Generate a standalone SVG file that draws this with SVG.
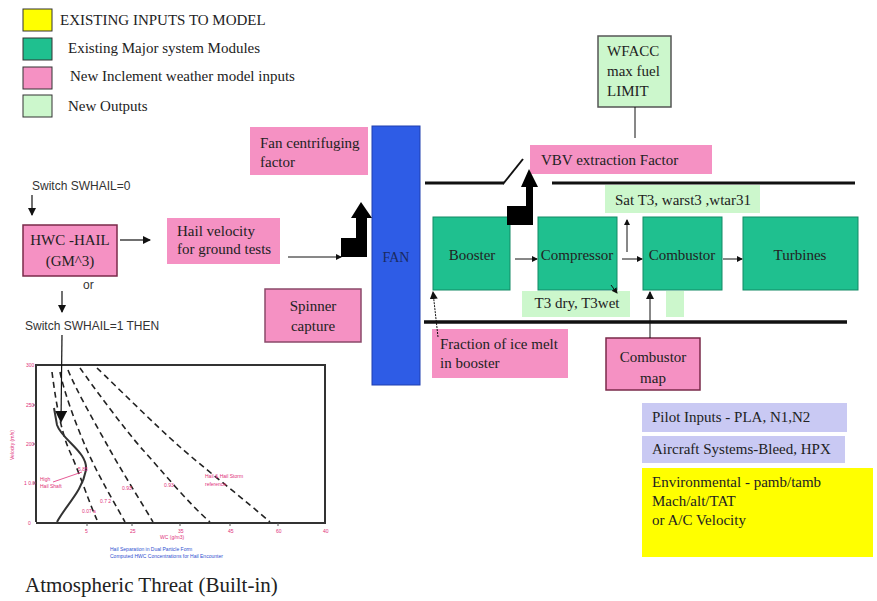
<svg xmlns="http://www.w3.org/2000/svg" width="877" height="601" viewBox="0 0 877 601">
<defs>
<marker id="ah" markerWidth="8" markerHeight="8" refX="7" refY="4" orient="auto" markerUnits="userSpaceOnUse"><path d="M0,0 L8,4 L0,8 z" fill="#111"/></marker>
<marker id="ahs" markerWidth="6" markerHeight="6" refX="5" refY="3" orient="auto" markerUnits="userSpaceOnUse"><path d="M0,0 L6,3 L0,6 z" fill="#111"/></marker>
<marker id="ahb" markerWidth="12" markerHeight="12" refX="10" refY="6" orient="auto" markerUnits="userSpaceOnUse"><path d="M0,0 L12,6 L0,12 z" fill="#111"/></marker>
</defs>
<style>
.t{font-family:"Liberation Serif","Times New Roman",serif;font-size:15px;fill:#222}
.s{font-family:"Liberation Sans",Arial,sans-serif;font-size:12px;fill:#333}
.pink{fill:#f591c3}
.bd{stroke:#7a2a4a;stroke-width:1.5}
.teal{fill:#1fc08f;stroke:#128a64;stroke-width:1}
.lg{fill:#ccf7cc}
.lav{fill:#c9c9f3}
.ln{stroke:#111;fill:none}
.c{font-family:"Liberation Sans",Arial,sans-serif;font-size:5px;fill:#e0307a}
.cb{font-family:"Liberation Sans",Arial,sans-serif;font-size:5px;fill:#3050d0}
.dash{stroke:#222;stroke-width:1.6;fill:none;stroke-dasharray:6,4}
</style>
<rect width="877" height="601" fill="#fff"/>

<g id="legend">
<rect x="23" y="9" width="29" height="22" fill="#ffff00" stroke="#333" stroke-width="1"/>
<text class="t" x="60" y="25">EXISTING  INPUTS TO MODEL</text>
<rect x="23" y="38" width="29" height="22" fill="#1fc08f" stroke="#333" stroke-width="1"/>
<text class="t" x="68" y="53">Existing Major system Modules</text>
<rect x="23" y="67" width="29" height="22" class="pink" stroke="#333" stroke-width="1"/>
<text class="t" x="70" y="81">New Inclement weather model inputs</text>
<rect x="23" y="95" width="29" height="22" class="lg" stroke="#333" stroke-width="1"/>
<text class="t" x="68" y="111">New Outputs</text>
</g>

<g id="switch0"><text class="s" x="32" y="190">Switch SWHAIL=0</text></g>
<g id="hwc">
<rect x="23" y="225" width="94" height="51" class="pink bd"/>
<text class="t" x="70" y="245" text-anchor="middle">HWC -HAIL</text>
<text class="t" x="70" y="266" text-anchor="middle">(GM^3)</text>
</g>
<g id="or"><text class="s" x="83" y="289">or</text></g>
<g id="switch1"><text class="s" x="25" y="330">Switch SWHAIL=1  THEN</text></g>
<g id="hailvel">
<rect x="167" y="218" width="113" height="46" class="pink"/>
<text class="t" x="177" y="236">Hail velocity</text>
<text class="t" x="177" y="254">for ground tests</text>
</g>
<g id="spinner">
<rect x="265" y="289" width="96" height="53" class="pink" stroke="#8a4a6a" stroke-width="1.5"/>
<text class="t" x="313" y="311" text-anchor="middle">Spinner</text>
<text class="t" x="313" y="331" text-anchor="middle">capture</text>
</g>
<g id="fancf">
<rect x="250" y="127" width="118" height="48" class="pink"/>
<text class="t" x="260" y="148">Fan centrifuging</text>
<text class="t" x="260" y="167">factor</text>
</g>
<g id="fan">
<rect x="372" y="126" width="48" height="259" fill="#2e5ce6" stroke="#1f3fb0" stroke-width="1"/>
<text class="t" x="396" y="262" text-anchor="middle" style="font-size:14px;fill:#1a2a60">FAN</text>
</g>
<g id="wfacc">
<rect x="598" y="36" width="73" height="71" class="lg" stroke="#555" stroke-width="1.5"/>
<text class="t" x="607" y="56">WFACC</text>
<text class="t" x="607" y="76">max fuel</text>
<text class="t" x="607" y="96">LIMIT</text>
</g>
<g id="vbv">
<rect x="530" y="145" width="182" height="29" class="pink"/>
<text class="t" x="541" y="165">VBV extraction Factor</text>
</g>

<g id="casing">
<line x1="425" y1="183" x2="504" y2="183" class="ln" stroke-width="3"/>
<line x1="503" y1="184" x2="523" y2="159" class="ln" stroke-width="2"/>
<line x1="552" y1="183" x2="855" y2="183" class="ln" stroke-width="3"/>
<line x1="424" y1="322" x2="847" y2="322" class="ln" stroke-width="3.5"/>
</g>

<g id="satt3">
<rect x="605" y="185" width="155" height="28" class="lg"/>
<text class="t" x="615" y="205">Sat T3, warst3 ,wtar31</text>
</g>
<g id="booster">
<rect x="433" y="217" width="77" height="73" class="teal"/>
<text class="t" x="472" y="260" text-anchor="middle">Booster</text>
</g>
<g id="compressor">
<rect x="538" y="217" width="79" height="73" class="teal"/>
<text class="t" x="577" y="260" text-anchor="middle">Compressor</text>
</g>
<g id="combustor">
<rect x="643" y="217" width="79" height="73" class="teal"/>
<text class="t" x="682" y="260" text-anchor="middle">Combustor</text>
</g>
<g id="turbines">
<rect x="743" y="217" width="115" height="73" class="teal"/>
<text class="t" x="800" y="260" text-anchor="middle">Turbines</text>
</g>
<g id="t3dry">
<rect x="522" y="291" width="108" height="26" class="lg"/>
<text class="t" x="577" y="308" text-anchor="middle">T3 dry, T3wet</text>
</g>
<g id="smallout"><rect x="666" y="291" width="18" height="26" class="lg"/></g>
<g id="fraction">
<rect x="432" y="329" width="136" height="49" class="pink"/>
<text class="t" x="440" y="349">Fraction of ice melt</text>
<text class="t" x="440" y="368">in booster</text>
</g>
<g id="combmap">
<rect x="606" y="338" width="94" height="52" class="pink bd"/>
<text class="t" x="653" y="362" text-anchor="middle">Combustor</text>
<text class="t" x="653" y="383" text-anchor="middle">map</text>
</g>
<g id="pilot">
<rect x="642" y="403" width="205" height="29" class="lav"/>
<text class="t" x="652" y="422">Pilot Inputs - PLA, N1,N2</text>
</g>
<g id="aircraft">
<rect x="642" y="436" width="203" height="27" class="lav"/>
<text class="t" x="652" y="454">Aircraft Systems-Bleed, HPX</text>
</g>
<g id="environ">
<rect x="642" y="468" width="231" height="89" fill="#ffff00"/>
<text class="t" x="652" y="487">Environmental - pamb/tamb</text>
<text class="t" x="652" y="506">Mach/alt/TAT</text>
<text class="t" x="652" y="525">or A/C Velocity</text>
</g>

<g id="chart">
<polyline points="36,522 36,365 325,365 325,523 36,523" fill="none" stroke="#333" stroke-width="2"/>
<g stroke="#555" stroke-width="1">
<line x1="33" y1="405" x2="36" y2="405"/><line x1="33" y1="444" x2="36" y2="444"/><line x1="33" y1="483" x2="36" y2="483"/>
<line x1="87" y1="523" x2="87" y2="526"/><line x1="132" y1="523" x2="132" y2="526"/><line x1="180" y1="523" x2="180" y2="526"/><line x1="230" y1="523" x2="230" y2="526"/><line x1="278" y1="523" x2="278" y2="526"/>
</g>
<text class="c" x="26" y="367">300</text>
<text class="c" x="26" y="407">250</text>
<text class="c" x="26" y="446">200</text>
<text class="c" x="24" y="485">1 0.0</text>
<text class="c" x="28" y="525">0</text>
<text class="c" x="14" y="460" transform="rotate(-90 14 460)">Velocity (m/s)</text>
<text class="c" x="85" y="533">5</text>
<text class="c" x="130" y="533">25</text>
<text class="c" x="178" y="533">35</text>
<text class="c" x="228" y="533">45</text>
<text class="c" x="276" y="533">60</text>
<text class="c" x="323" y="533">40</text>
<text class="c" x="160" y="539">WC (g/m3)</text>
<text class="cb" x="110" y="551">Hail Separation in Dual Particle Form</text>
<text class="cb" x="110" y="558">Computed HWC Concentrations for Hail Encounter</text>
<path class="dash" d="M52,372 C55,395 60,430 70,452 S88,500 97,520"/>
<path class="dash" d="M60,372 C64,392 76,425 87,450 S110,495 125,522"/>
<path class="dash" d="M68,370 C76,390 96,425 110,450 S140,500 153,522"/>
<path class="dash" d="M80,368 C92,385 125,430 143,450 S190,505 210,522"/>
<path class="dash" d="M97,368 C115,385 155,425 180,447 S245,500 270,522"/>
<path d="M57,522 C66,505 82,492 86,470 C88,452 62,440 57,425 L54,408" fill="none" stroke="#333" stroke-width="2"/>
<line x1="53" y1="482" x2="82" y2="472" stroke="#e0307a" stroke-width="0.8"/>
<text class="c" x="40" y="481">High</text>
<text class="c" x="40" y="488">Hail Shaft</text>
<text class="c" x="78" y="471">5.85</text>
<text class="c" x="82" y="513">0.07 a</text>
<text class="c" x="100" y="503">0.7 2</text>
<text class="c" x="122" y="490">0.93</text>
<text class="c" x="164" y="487">0.93</text>
<text class="c" x="205" y="478">Hail &amp; Hail Storm</text>
<text class="c" x="205" y="486">reference</text>
</g>
<g id="title"><text x="25" y="592" style="font-family:'Liberation Serif','Times New Roman',serif;font-size:21px;fill:#222">Atmospheric Threat (Built-in)</text></g>

<g id="connectors">
<line x1="32" y1="195" x2="32" y2="215" class="ln" stroke-width="1.2" marker-end="url(#ah)"/>
<line x1="120" y1="240" x2="150" y2="240" class="ln" stroke-width="1.2" marker-end="url(#ah)"/>
<line x1="62" y1="291" x2="62" y2="312" class="ln" stroke-width="1.2" marker-end="url(#ah)"/>
<line x1="62" y1="335" x2="61" y2="421" class="ln" stroke-width="1.2" marker-end="url(#ahb)"/>
<line x1="288" y1="257" x2="341" y2="257" class="ln" stroke-width="1" marker-end="url(#ahs)"/>
<polygon points="341,238 356,238 356,218 351,218 361,202 372,218 367,218 367,257 341,257" fill="#000"/>
<polygon points="507,206 526,206 526,187 521,187 529,169 538,187 533,187 533,225 507,225" fill="#000"/>
<line x1="635" y1="107" x2="635" y2="138" class="ln" stroke-width="1"/>
<line x1="515" y1="259" x2="537" y2="259" class="ln" stroke-width="1" marker-end="url(#ahs)"/>
<line x1="622" y1="259" x2="642" y2="259" class="ln" stroke-width="1" marker-end="url(#ahs)"/>
<line x1="723" y1="259" x2="742" y2="259" class="ln" stroke-width="1" marker-end="url(#ahs)"/>
<line x1="627" y1="252" x2="627" y2="220" class="ln" stroke-width="1" marker-end="url(#ahs)"/>
<line x1="611" y1="285" x2="617" y2="293" class="ln" stroke-width="1" marker-end="url(#ahs)"/>
<line x1="650" y1="338" x2="650" y2="292" class="ln" stroke-width="1" marker-end="url(#ah)"/>
<line x1="438" y1="337" x2="433" y2="292" class="ln" stroke-width="1" stroke-dasharray="2,1" marker-end="url(#ah)"/>
</g>
</svg>
